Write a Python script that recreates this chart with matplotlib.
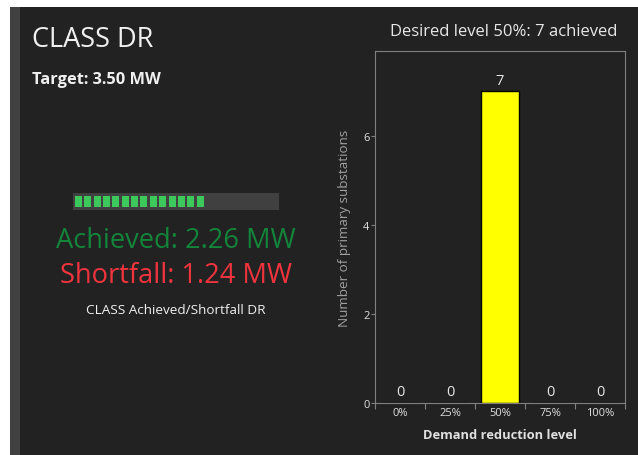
import numpy as np
import matplotlib.pyplot as plt
from matplotlib.patches import Rectangle

plt.rcParams['font.family'] = ['Open Sans', 'DejaVu Sans']

# data
levels = ['0%', '25%', '50%', '75%', '100%']
counts = [0, 0, 7, 0, 0]
desired = '50%'
target_mw = 3.50
achieved_mw = 2.26
shortfall_mw = target_mw - achieved_mw
n_slots = 22

W, H = 638, 456
fig = plt.figure(figsize=(W / 100, H / 100), dpi=100, facecolor='white')

def fx(px):
    return px / W

def fy(py):
    return 1 - py / H

# dark panel
fig.patches.append(Rectangle((fx(10), 0), 1 - fx(10), fy(8), transform=fig.transFigure,
                             facecolor='#222222', edgecolor='none', zorder=-10))
fig.patches.append(Rectangle((fx(10), 0), fx(10), fy(8), transform=fig.transFigure,
                             facecolor='#404040', edgecolor='none', zorder=-9))

# left side texts
fig.text(fx(32), fy(40), 'CLASS DR', color='#f0f0f0', fontsize=19.5, va='center', ha='left')
fig.text(fx(32), fy(80), f'Target: {target_mw:.2f} MW', color='#f0f0f0', fontsize=11.8,
         fontweight='bold', va='center', ha='left')
fig.text(fx(176), fy(241), f'Achieved: {achieved_mw:.2f} MW', color='#13853a', fontsize=19.6,
         va='center', ha='center')
fig.text(fx(176), fy(276), f'Shortfall: {shortfall_mw:.2f} MW', color='#f0343e', fontsize=19.6,
         va='center', ha='center')
fig.text(fx(176), fy(310), 'CLASS Achieved/Shortfall DR', color='#f0f0f0', fontsize=9.7,
         va='center', ha='center')

# progress bar
pax = fig.add_axes([fx(73), fy(211), fx(279) - fx(73), fy(194) - fy(211)])
pax.set_xlim(0, n_slots)
pax.set_ylim(0, 1)
pax.axis('off')
pax.add_patch(Rectangle((0, 0), n_slots, 1, facecolor='#404040', edgecolor='none'))
n_filled = int(round(achieved_mw / target_mw * n_slots))
for i in range(n_filled):
    pax.add_patch(Rectangle((i + 0.2, 0.15), 0.75, 0.7, facecolor='#3cc85a', edgecolor='none'))

# bar chart
ax = fig.add_axes([fx(375), fy(404), fx(625) - fx(375), fy(52) - fy(404)])
ax.set_facecolor('#222222')
x = np.arange(len(levels))
ax.bar(x, counts, width=0.76, color='yellow', edgecolor='black', linewidth=1)
for xi, c in zip(x, counts):
    ax.text(xi, c + 0.08, str(c), ha='center', va='bottom', color='#e8e8e8', fontsize=10.5)
ax.set_xlim(-0.5, len(levels) - 0.5)
ax.set_ylim(0, 7.9)
ax.set_yticks([0, 2, 4, 6])
ax.set_xticks(np.arange(len(levels) + 1) - 0.5)
ax.set_xticklabels([])
ax.set_xticks(x, minor=True)
ax.set_xticklabels(levels, minor=True)
ax.tick_params(axis='x', which='major', length=4, color='#808080')
ax.tick_params(axis='x', which='minor', length=0, labelsize=8, labelcolor='#e0e0e0', pad=3)
ax.tick_params(axis='y', length=3, color='#808080', labelsize=8, labelcolor='#e0e0e0', pad=1)
for s in ax.spines.values():
    s.set_color('#808080')
ax.set_xlabel('Demand reduction level', color='#e0e0e0', fontsize=9.3, fontweight='bold', labelpad=7)
ax.set_ylabel('Number of primary substations', color='#a0a0a0', fontsize=9.7, labelpad=9)
fig.text(fx(504), fy(32), f'Desired level {desired}: {counts[levels.index(desired)]} achieved',
         color='#e8e8e8', fontsize=12, ha='center', va='center')

fig.savefig('out.png', dpi=100, facecolor=fig.get_facecolor())
